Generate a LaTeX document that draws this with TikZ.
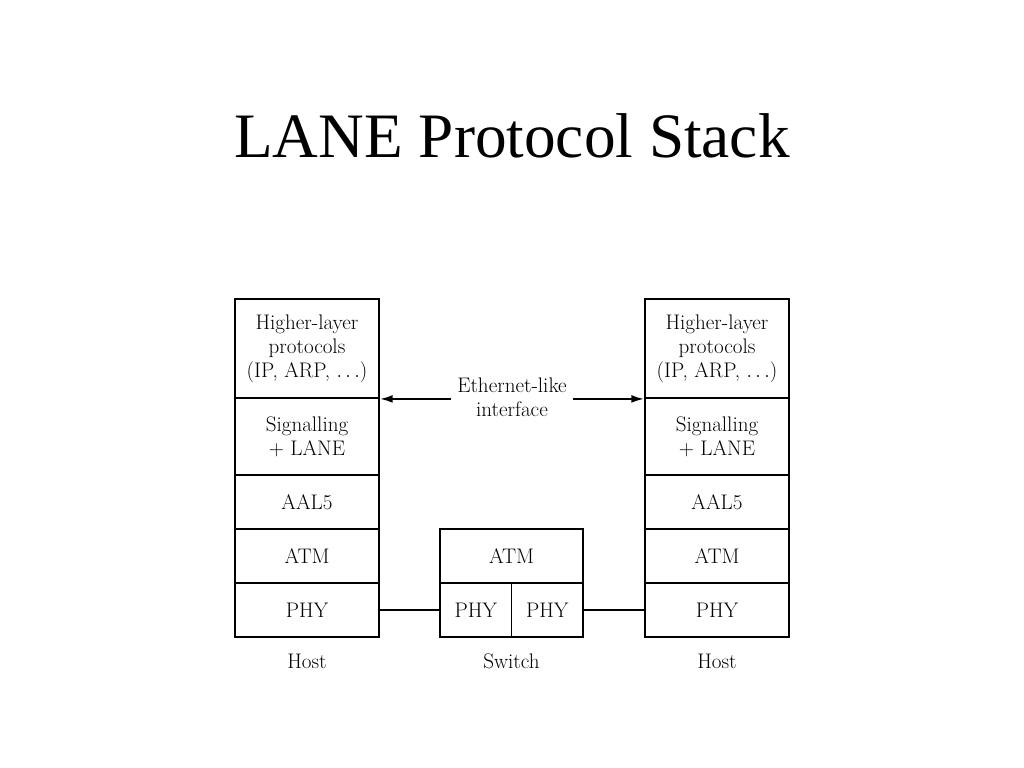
\documentclass[tikz,border=0pt]{standalone}
\usepackage{fontspec}
\usepackage{tikz}
\usetikzlibrary{arrows.meta}
\usetikzlibrary{positioning}
\newfontfamily\titlefont{Liberation Serif}

\begin{document}
\begin{tikzpicture}[x=0.025cm,y=-0.025cm,
    layer/.style={draw,line width=1.3pt,minimum width=3.6cm,inner sep=0pt,
      align=center,font=\fontsize{15}{17}\selectfont},
    halflayer/.style={layer,minimum width=1.8cm},
    caption/.style={font=\fontsize{15}{17}\selectfont}]
      \useasboundingbox (0,0) rectangle (1024,768);
      \node[font=\titlefont\fontsize{45}{54}\selectfont,anchor=base] (title) at (512,157) {LANE Protocol Stack};
      % left host
      \node[layer,minimum height=2.475cm] (hl1) at (307,348.5) {Higher-layer\\protocols\\(IP, ARP, $\ldots$)};
      \node[layer,minimum height=1.925cm] (sig1) at (307,436.5) {Signalling\\+ LANE};
      \node[layer,minimum height=1.35cm] (aal1) at (307,502) {AAL5};
      \node[layer,minimum height=1.35cm] (atm1) at (307,556) {ATM};
      \node[layer,minimum height=1.35cm] (phy1) at (307,610) {PHY};
      \node[caption] (host1) at (307,661) {Host};
      % right host
      \node[layer,minimum height=2.475cm] (hl2) at (717,348.5) {Higher-layer\\protocols\\(IP, ARP, $\ldots$)};
      \node[layer,minimum height=1.925cm] (sig2) at (717,436.5) {Signalling\\+ LANE};
      \node[layer,minimum height=1.35cm] (aal2) at (717,502) {AAL5};
      \node[layer,minimum height=1.35cm] (atm2) at (717,556) {ATM};
      \node[layer,minimum height=1.35cm] (phy2) at (717,610) {PHY};
      \node[caption] (host2) at (717,661) {Host};
      % switch
      \node[layer,minimum width=3.575cm,minimum height=1.35cm] (satm) at (511.5,556) {ATM};
      \node[halflayer,minimum width=1.7875cm,minimum height=1.35cm] (sphy1) at (475.75,610) {PHY};
      \node[halflayer,minimum width=1.7875cm,minimum height=1.35cm] (sphy2) at (547.25,610) {PHY};
      \node[caption] (switch) at (511.5,661) {Switch};
      % links
      \draw[line width=1.3pt] (phy1) -- (sphy1);
      \draw[line width=1.3pt] (sphy2) -- (phy2);
      \node[caption,align=center,inner sep=4pt] (eth) at (512,397) {Ethernet-like\\interface};
      \draw[line width=1.3pt,-{Latex[length=9pt,width=5.5pt]}] (eth.west |- hl1.south) -- (hl1.south east);
      \draw[line width=1.3pt,-{Latex[length=9pt,width=5.5pt]}] (eth.east |- hl2.south) -- (hl2.south west);
\end{tikzpicture}
\end{document}
